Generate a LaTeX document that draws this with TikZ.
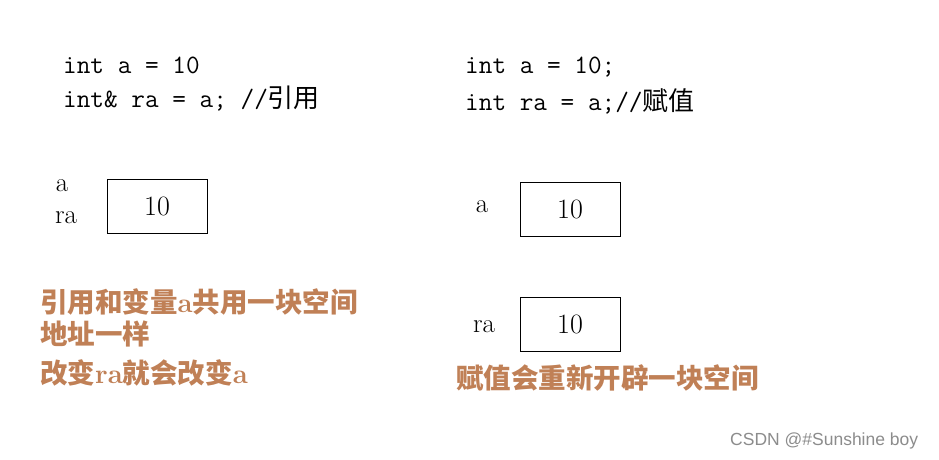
\documentclass[tikz,border=0pt]{standalone}
\usepackage{fontspec}
\newfontfamily\cjk{Noto Sans CJK SC}
\newfontfamily\wm{Liberation Sans}
\definecolor{note}{RGB}{192,128,86}
\begin{document}
\begin{tikzpicture}[x=1pt,y=-1pt,
  code/.style={anchor=west,inner sep=0pt,font=\fontsize{26.5}{28}\ttfamily},
  lbl/.style={inner sep=0pt,font=\fontsize{27}{29}\rmfamily},
  cell/.style={draw,line width=0.9pt,minimum width=100pt,minimum height=54pt,inner sep=0pt,font=\fontsize{28}{30}\rmfamily},
  note/.style={anchor=west,inner sep=0pt,text=note,font=\fontsize{27.5}{30}\bfseries}]
\useasboundingbox[fill=white] (0,0) rectangle (939,460);
% left side
\node[code] (l1) at (63,65) {int a = 10};
\node[code] (l2) at (63,99) {int\& ra = a; //{\cjk\fontsize{26}{28}\selectfont 引用}};
\node[lbl] (la) at (62,186) {a};
\node[lbl] (lra) at (66,218) {ra};
\node[cell] (lbox) at (157,206) {10};
\node[note] (n1) at (40,302) {{\cjk 引用和变量}a{\cjk 共用一块空间}};
\node[note] (n2) at (40,334) {{\cjk 地址一样}};
\node[note] (n3) at (40,373) {{\cjk 改变}ra{\cjk 就会改变}a};
% right side
\node[code] (r1) at (465,67) {int a = 10;};
\node[code] (r2) at (465,101) {int ra = a;//{\cjk\fontsize{26}{28}\selectfont 赋值}};
\node[lbl] (ra) at (482,207) {a};
\node[cell] (rbox1) at (570,209) {10};
\node[lbl] (rra) at (484,327) {ra};
\node[cell] (rbox2) at (570,324) {10};
\node[note] (n4) at (456,378) {{\cjk 赋值会重新开辟一块空间}};
% watermark
\node[anchor=west,inner sep=0pt,text=black!45,font=\fontsize{17.5}{19}\wm] (wm) at (730,441) {CSDN @\#Sunshine boy};
\end{tikzpicture}
\end{document}
